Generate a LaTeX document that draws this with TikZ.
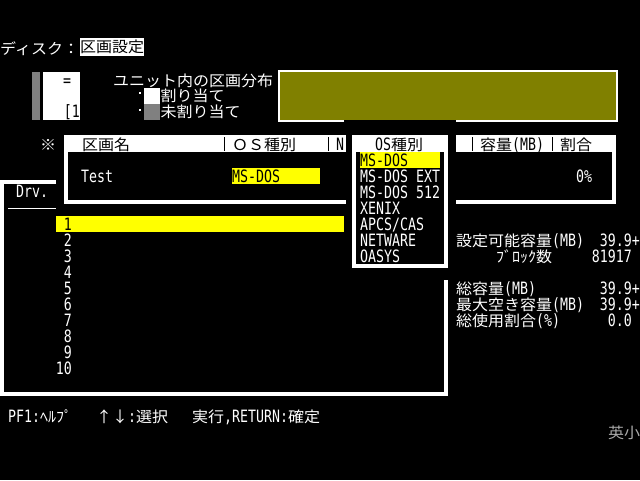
\documentclass[tikz,border=0pt]{standalone}
\usepackage{fontspec}
\setmainfont{Noto Sans CJK JP}[FakeStretch=1.067]
\newfontfamily\latfam[FakeStretch=0.78]{DejaVu Sans Mono}
\newcommand\pc{\fontsize{15}{16}\selectfont}
\newcommand\lat{\fontsize{17}{16}\latfam}
\definecolor{pcyellow}{RGB}{255,255,0}
\definecolor{pcolive}{RGB}{128,128,0}
\definecolor{pcgray}{RGB}{128,128,128}
\definecolor{pcdim}{RGB}{170,170,170}
\usetikzlibrary{positioning}

\begin{document}
\begin{tikzpicture}[x=1pt,y=-1pt,
    txt/.style={anchor=base west,inner sep=0pt,text=white,font=\pc},
    rtxt/.style={txt,anchor=base east},
    inv/.style={text=black},
    frame/.style={draw=white,line width=4pt},
    colsep/.style={draw=black,line width=1pt}]
    \useasboundingbox[fill=black] (0,0) rectangle (640,480);

    % Title
    \node (title) [txt] at (0,54) {ディスク：};
    \node (title_sel) [anchor=west,fill=white,text=black,font=\pc,inner sep=0pt,
        minimum width=64,minimum height=18] at (80,47) {区画設定};

    % Unit map and legend
    \fill[pcgray] (32,72) rectangle (40,120);
    \node (unit_map) [anchor=north west,fill=white,inner sep=0pt,
        minimum width=37,minimum height=48] at (43,72) {};
    \node (map_mark) [txt,inv] at (63,86) {\lat =};
    \node (map_no) [rtxt,inv] at (80,117) {\lat [1};
    \node (legend) [txt] at (113,86) {ユニット内の区画分布};
    \node (box_used) [anchor=north west,fill=white,inner sep=0pt,minimum size=16] at (144,88) {};
    \node (box_free) [anchor=north west,fill=pcgray,inner sep=0pt,minimum size=16] at (144,104) {};
    \fill[white] (139,92) rectangle (141,94);
    \fill[white] (139,109) rectangle (141,111);
    \node (l_used) [txt,right=0pt of box_used] {割り当て};
    \node (l_free) [txt,right=0pt of box_free] {未割り当て};

    % Allocation bar
    \fill[pcolive] (280,72) rectangle (616,120);
    \draw[white,line width=2pt] (344,121) -| (279,71) -| (617,121) -- (456,121);

    % Partition table
    \node (mark) [txt] at (40,150) {※};
    \fill[white] (64,135) rectangle (616,152);
    \draw[frame] (66,135) -- (66,202) -- (614,202) -- (614,135);
    \draw[colsep] (224.5,137) -- (224.5,151);
    \draw[colsep] (328.5,137) -- (328.5,151);
    \draw[colsep] (472.5,137) -- (472.5,151);
    \draw[colsep] (552.5,137) -- (552.5,151);
    \node (h_name) [txt,inv] at (82,150) {区画名};
    \node (h_os) [txt,inv] at (232,150) {ＯＳ種別};
    \node (h_cut) [txt,inv] at (336,150) {\lat N};
    \node (h_size) [txt,inv] at (480,150) {容量{\lat(MB)}};
    \node (h_ratio) [txt,inv] at (560,150) {割合};
    \node (p_name) [txt] at (81,182) {\lat Test};
    \fill[pcyellow] (232,168) rectangle (320,184);
    \node (p_os) [txt,inv] at (232,182) {\lat MS-DOS};
    \node (p_ratio) [txt] at (576,182) {\lat 0\%};

    % Drive list
    \draw[frame] (56,182) -- (2,182) -- (2,394) -- (446,394) -- (446,280);
    \node (drv) [txt] at (16,197) {\lat Drv.};
    \draw[white] (8,208.5) -- (56,208.5);
    \fill[pcyellow] (56,216) rectangle (344,232);
    \node (drive1) [rtxt,inv] at (72,230) {\lat 1};
    \foreach \i in {2,...,10}
        \node (drive\i) [rtxt] at (72,{214+16*\i}) {\lat\i};

    % OS type popup
    \fill[black] (346,123) rectangle (456,270);
    \fill[white] (352,135) rectangle (448,152);
    \draw[frame] (354,135) -- (354,266) -- (446,266) -- (446,135);
    \node (os_head) [txt,inv] at (375,150) {{\lat OS}種別};
    \fill[pcyellow] (360,152) rectangle (440,168);
    \node (os0) [txt,inv] at (360,166) {\lat MS-DOS};
    \foreach \t [count=\k] in {MS-DOS EXT,MS-DOS 512,XENIX,APCS/CAS,NETWARE,OASYS}
        \node (os\k) [txt] at (360,{166+16*\k}) {\lat\t};

    % Capacity info
    \node (avail) [txt] at (456,246) {設定可能容量{\lat(MB)}};
    \node (avail_v) [rtxt] at (640,246) {\lat 39.9+};
    \node (blocks) [txt] at (496,262) {ﾌﾞﾛｯｸ数};
    \node (blocks_v) [rtxt] at (632,262) {\lat 81917};
    \node (total) [txt] at (456,294) {総容量{\lat(MB)}};
    \node (total_v) [rtxt] at (640,294) {\lat 39.9+};
    \node (maxfree) [txt] at (456,310) {最大空き容量{\lat(MB)}};
    \node (maxfree_v) [rtxt] at (640,310) {\lat 39.9+};
    \node (usage) [txt] at (456,326) {総使用割合{\lat(\%)}};
    \node (usage_v) [rtxt] at (632,326) {\lat 0.0};

    % Key help
    \node (k_help) [txt] at (8,422) {{\lat PF1:}ﾍﾙﾌﾟ};
    \node (k_select) [txt] at (96,422) {↑↓{\lat:}選択};
    \node (k_confirm) [txt] at (192,422) {実行{\lat,RETURN:}確定};
    \node (mode) [txt,text=pcdim] at (608,438) {英小};
\end{tikzpicture}
\end{document}
